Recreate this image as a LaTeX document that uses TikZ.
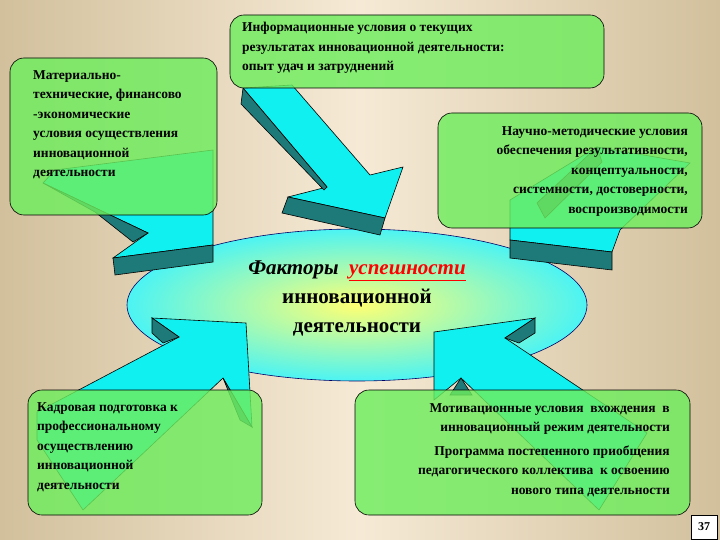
\documentclass[tikz,border=0pt]{standalone}
\usepackage{fontspec}
\setmainfont{Liberation Serif}
\usetikzlibrary{shapes.geometric}
\definecolor{bgtan}{HTML}{D2C09C}
\definecolor{bgcream}{HTML}{F6EAD6}
\definecolor{boxg}{HTML}{6EEE5E}
\definecolor{arrc}{HTML}{10F0F0}
\definecolor{arrt}{HTML}{1E7A78}
\begin{document}
\begin{tikzpicture}[x=1pt,y=-1pt,
  gbox/.style={draw=black,line width=0.6pt,fill=boxg,fill opacity=0.82,text opacity=1,rounded corners=14pt},
  face/.style={draw=black,line width=0.6pt,fill=arrc},
  side/.style={draw=black,line width=0.6pt,fill=arrt},
  btxt/.style={font=\fontsize{13.5}{19.5}\selectfont\bfseries,text=black,inner sep=0pt}]
\useasboundingbox (0,0) rectangle (720,540);
\shade[left color=bgtan,right color=bgcream] (0,0) rectangle (360,540);
\shade[left color=bgcream,right color=bgtan] (360,0) rectangle (720,540);
% ellipse
\shade[inner color=yellow!55!white,outer color=arrc!75!white] (357,305) ellipse [x radius=230,y radius=76];
\draw[line width=0.6pt,draw=blue!40!black] (357,305) ellipse [x radius=230,y radius=76];
% top-left arrow
\path[face] (55,170) -- (213,150) -- (213,245) -- (113,258) -- (148,233) -- (43,183) -- cycle;
\path[side] (43,183) -- (148,233) -- (133,242) -- (95,212) -- cycle;
\path[side] (113,258) -- (213,245) -- (213,262) -- (115,275) -- cycle;
% top arrow
\path[face] (243,88) -- (292,85) -- (370,175) -- (403,167) -- (385,218) -- (288,197) -- (327,187) -- cycle;
\path[side] (243,88) -- (327,187) -- (324,190) -- (241,104) -- cycle;
\path[side] (288,197) -- (385,218) -- (380,235) -- (282,213) -- cycle;
% top-right arrow
\path[face] (510,200) -- (597,147) -- (690,163) -- (620,230) -- (612,252) -- (510,240) -- cycle;
\path[side] (537,203) -- (597,147) -- (602,162) -- (545,218) -- cycle;
\path[side] (510,240) -- (612,252) -- (612,270) -- (510,258) -- cycle;
% bottom-left arrow
\path[face] (152,318) -- (246,323) -- (252,427) -- (223,378) -- (83,510) -- (37,440) -- (37,412) -- (179,337) -- cycle;
\path[side] (152,318) -- (179,337) -- (163,343) -- (152,333) -- cycle;
\path[side] (223,378) -- (252,427) -- (240,420) -- cycle;
% bottom-right arrow
\path[face] (434,332) -- (535,318) -- (505,338) -- (647,433) -- (599,510) -- (461,378) -- (434,400) -- cycle;
\path[side] (535,318) -- (535,333) -- (519,343) -- (505,338) -- cycle;
\path[side] (461,378) -- (472,395) -- (450,395) -- cycle;
% boxes
\node[gbox,minimum width=207pt,minimum height=157pt] (b1) at (113.5,136.5) {};
\node[btxt,anchor=north west,align=left] (t1) at (33,70) {Материально-\\технические, финансово\\-экономические\\условия осуществления\\инновационной\\деятельности};
\node[gbox,minimum width=374pt,minimum height=73pt] (b2) at (417,51.5) {};
\node[btxt,anchor=north west,align=left] (t2) at (242,22) {Информационные условия о текущих\\результатах инновационной деятельности:\\опыт удач и затруднений};
\node[gbox,minimum width=264pt,minimum height=115pt] (b3) at (570,170.5) {};
\node[btxt,anchor=north east,align=right] (t3) at (688,126) {Научно-методические условия\\обеспечения результативности,\\концептуальности,\\системности, достоверности,\\воспроизводимости};
\node[gbox,minimum width=234pt,minimum height=125pt] (b4) at (145,452.5) {};
\node[btxt,anchor=north west,align=left] (t4) at (37,402) {Кадровая подготовка к\\профессиональному\\осуществлению\\инновационной\\деятельности};
\node[gbox,minimum width=335pt,minimum height=125pt] (b5) at (522.5,452.5) {};
\node[btxt,anchor=north east,align=right] (t5) at (670,403) {Мотивационные условия\ \ вхождения\ \ в\\инновационный режим деятельности\\[4pt]Программа постепенного приобщения\\педагогического коллектива\ \ к освоению\\нового типа деятельности};
% title
\node[inner sep=0pt,font=\fontsize{21}{29}\selectfont\bfseries,align=center] (title) at (357,298)
  {\textit{Факторы}\ \ \textcolor{red}{\textit{\underline{успешности}}}\\инновационной\\деятельности};
% page number
\node[draw=black,fill=white,inner sep=3pt,font=\fontsize{12}{12}\selectfont\bfseries,minimum width=26pt,minimum height=24pt] (pg) at (704,527) {37};
\end{tikzpicture}
\end{document}
